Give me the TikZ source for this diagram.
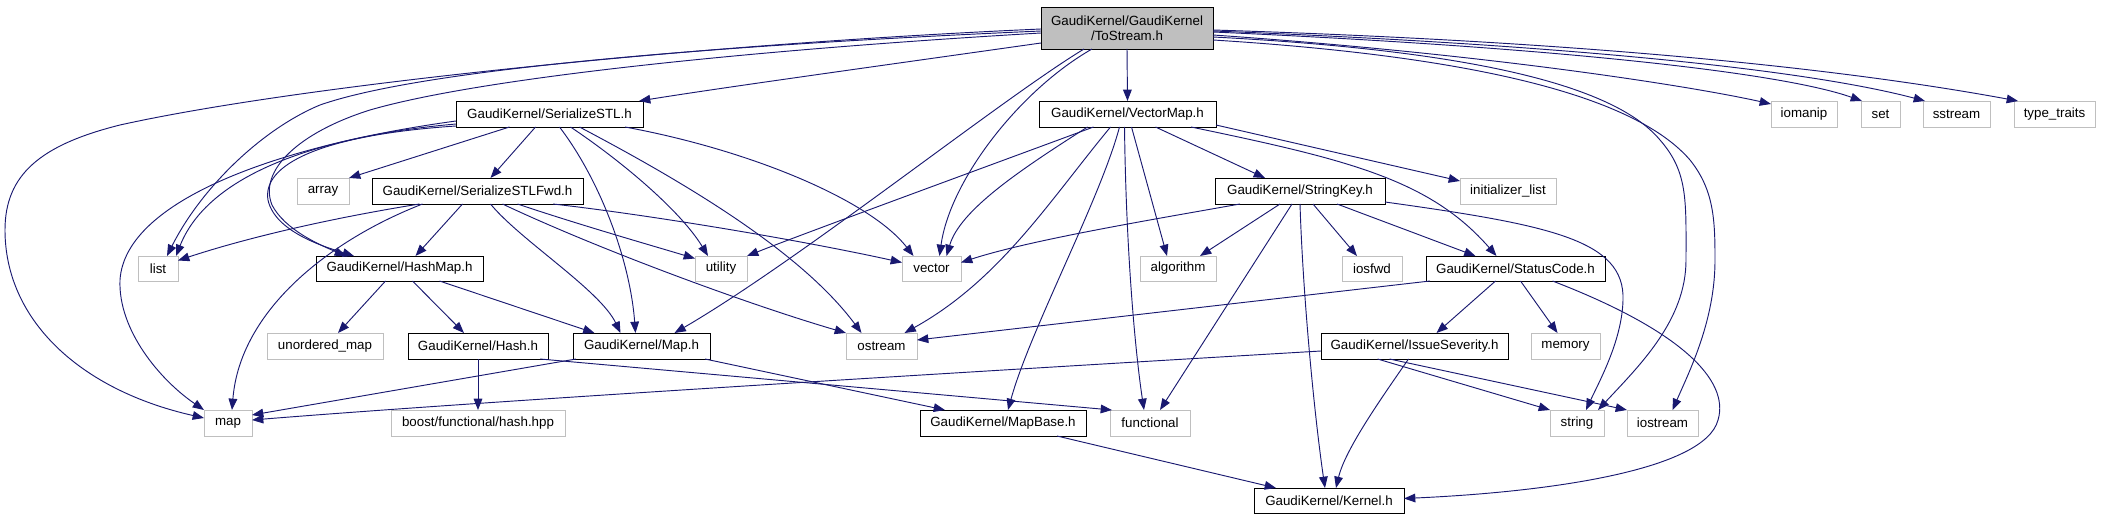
\documentclass[tikz,border=0pt]{standalone}
\usepackage{fontspec}
\setmainfont{Liberation Sans}
\usetikzlibrary{arrows.meta}
\definecolor{edgecol}{HTML}{191970}
\definecolor{extgray}{HTML}{BFBFBF}
\newcommand\gn[6]{\node[#1, minimum width={(#4-#2)*0.75pt}, minimum height={(#5-#3)*0.75pt}] (#6) at ({(#2+#4)/2},{(#3+#5)/2})}
\begin{document}
\begin{tikzpicture}[x=0.75pt,y=-0.75pt,
  base/.style={rectangle, inner sep=0pt, outer sep=0pt, line width=0.65pt, font=\fontsize{10}{11.5}\selectfont, text=black},
  doc/.style={base, draw=black},
  ext/.style={base, draw=extgray},
  root/.style={base, draw=black, fill=extgray, align=center},
  dep/.style={draw=edgecol, line width=0.7pt, -{Triangle[length=8.5pt,width=6.5pt,fill=edgecol]}}]
\useasboundingbox (0,0) rectangle (2123,520);
% row 0
\gn{root}{1041}{7}{1213}{49}{ts} {GaudiKernel/GaudiKernel\\/ToStream.h};
% row 1
\gn{doc}{456}{101}{643}{127}{sstl} {GaudiKernel/SerializeSTL.h};
\gn{doc}{1039}{101}{1216}{127}{vmap} {GaudiKernel/VectorMap.h};
\gn{ext}{1771}{101}{1837}{127}{iomanip} {iomanip};
\gn{ext}{1861}{101}{1900}{127}{set} {set};
\gn{ext}{1923}{101}{1990}{127}{sstream} {sstream};
\gn{ext}{2014}{101}{2095}{127}{ttraits} {type\_traits};
% row 2
\gn{ext}{297}{178}{349}{204}{array} {array};
\gn{doc}{372}{178}{583}{204}{sfwd} {GaudiKernel/SerializeSTLFwd.h};
\gn{doc}{1215}{178}{1385}{204}{skey} {GaudiKernel/StringKey.h};
\gn{ext}{1460}{178}{1556}{204}{ilist} {initializer\_list};
% row 3
\gn{ext}{138}{256}{178}{281}{list} {list};
\gn{doc}{316}{256}{483}{281}{hmap} {GaudiKernel/HashMap.h};
\gn{ext}{695}{256}{747}{281}{utility} {utility};
\gn{ext}{902}{256}{961}{281}{vector} {vector};
\gn{ext}{1140}{256}{1216}{281}{algo} {algorithm};
\gn{ext}{1342}{256}{1402}{281}{iosfwd} {iosfwd};
\gn{doc}{1426}{256}{1605}{281}{scode} {GaudiKernel/StatusCode.h};
% row 4
\gn{ext}{267}{333}{383}{359}{umap} {unordered\_map};
\gn{doc}{408}{333}{548}{359}{hash} {GaudiKernel/Hash.h};
\gn{doc}{573}{333}{710}{359}{maph} {GaudiKernel/Map.h};
\gn{ext}{846}{333}{917}{359}{ostream} {ostream};
\gn{doc}{1321}{333}{1508}{359}{isev} {GaudiKernel/IssueSeverity.h};
\gn{ext}{1531}{333}{1600}{359}{memory} {memory};
% row 5
\gn{ext}{204}{410}{252}{436}{map} {map};
\gn{ext}{391}{410}{565}{436}{boost} {boost/functional/hash.hpp};
\gn{doc}{920}{410}{1086}{436}{mapbase} {GaudiKernel/MapBase.h};
\gn{ext}{1110}{410}{1190}{436}{functional} {functional};
\gn{ext}{1550}{410}{1604}{436}{string} {string};
\gn{ext}{1627}{410}{1698}{436}{iostream} {iostream};
% row 6
\gn{doc}{1254}{488}{1404}{513}{kernel} {GaudiKernel/Kernel.h};

% ---- ToStream
\draw[dep] ([shift={(0,1)}]ts.west) .. controls (700,44) and (300,85) .. (120,125) .. controls (40,145) and (5,175) .. (5,230) .. controls (5,320) and (80,390) .. ([shift={(0,-5)}]map.west);
\draw[dep] ([shift={(0,3)}]ts.west) .. controls (700,46) and (420,70) .. (320,105) .. controls (260,130) and (200,190) .. ([shift={(9,0)}]list.north);
\draw[dep] ([shift={(0,5)}]ts.west) .. controls (750,50) and (480,78) .. (370,110) .. controls (300,132) and (258,170) .. (272,205) .. controls (285,230) and (320,245) .. ([shift={(30,0)}]hmap.north west);
\draw[dep] ([shift={(0,15)}]ts.west) .. controls (850,70) and (720,88) .. ([shift={(-4,0)}]sstl.north east);
\draw[dep] ([shift={(-43,0)}]ts.south) .. controls (1000,100) and (800,260) .. ([shift={(33,0)}]maph.north);
\draw[dep] ([shift={(-35,0)}]ts.south) .. controls (1020,90) and (950,180) .. ([shift={(8,0)}]vector.north);
\draw[dep] (ts.south) -- (vmap.north);
\draw[dep] ([shift={(0,2)}]ts.east) .. controls (1600,42) and (1850,70) .. ([shift={(4,0)}]ttraits.north west);
\draw[dep] ([shift={(0,3)}]ts.east) .. controls (1550,44) and (1800,68) .. ([shift={(2,0)}]sstream.north west);
\draw[dep] ([shift={(0,4)}]ts.east) .. controls (1550,47) and (1780,72) .. ([shift={(1,0)}]set.north west);
\draw[dep] ([shift={(0,7)}]ts.east) .. controls (1500,55) and (1700,88) .. ([shift={(0,-10)}]iomanip.west);
\draw[dep] ([shift={(0,9)}]ts.east) .. controls (1500,52) and (1620,92) .. (1660,140) .. controls (1688,172) and (1686,200) .. (1686,260) .. controls (1686,320) and (1640,365) .. ([shift={(21,0)}]string.north);
\draw[dep] ([shift={(0,12)}]ts.east) .. controls (1500,58) and (1640,102) .. (1690,160) .. controls (1714,190) and (1715,220) .. (1715,260) .. controls (1715,320) and (1690,370) .. ([shift={(10,0)}]iostream.north);

% ---- SerializeSTL
\draw[dep] ([shift={(-40,0)}]sstl.south) -- (array.north east);
\draw[dep] ([shift={(-14,0)}]sstl.south) -- ([shift={(13,0)}]sfwd.north);
\draw[dep] ([shift={(0,7)}]sstl.west) .. controls (280,145) and (125,200) .. (120,280) .. controls (118,330) and (160,380) .. (map.north west);
\draw[dep] ([shift={(0,10)}]sstl.west) .. controls (330,135) and (210,170) .. ([shift={(-2,0)}]list.north east);
\draw[dep] ([shift={(0,12)}]sstl.west) .. controls (320,135) and (262,165) .. (268,200) .. controls (275,232) and (325,247) .. ([shift={(38,0)}]hmap.north west);
\draw[dep] ([shift={(10,0)}]sstl.south) .. controls (600,180) and (630,260) .. ([shift={(-6,0)}]maph.north);
\draw[dep] ([shift={(21,0)}]sstl.south) .. controls (620,160) and (680,210) .. ([shift={(-13,0)}]utility.north);
\draw[dep] ([shift={(30,0)}]sstl.south) .. controls (680,180) and (800,250) .. ([shift={(-20,0)}]ostream.north);
\draw[dep] ([shift={(-18,0)}]sstl.south east) .. controls (750,150) and (870,200) .. ([shift={(-18,0)}]vector.north);

% ---- SerializeSTLFwd
\draw[dep] ([shift={(-58,0)}]sfwd.south) .. controls (320,220) and (240,240) .. ([shift={(0,-8)}]list.east);
\draw[dep] ([shift={(-55,0)}]sfwd.south) .. controls (330,240) and (240,310) .. ([shift={(4,0)}]map.north);
\draw[dep] ([shift={(-15,0)}]sfwd.south) -- ([shift={(16,0)}]hmap.north);
\draw[dep] ([shift={(13,0)}]sfwd.south) .. controls (520,240) and (600,290) .. ([shift={(-21,0)}]maph.north);
\draw[dep] ([shift={(25,0)}]sfwd.south) .. controls (600,250) and (750,305) .. (ostream.north west);
\draw[dep] ([shift={(40,0)}]sfwd.south) .. controls (580,225) and (650,245) .. ([shift={(0,-10)}]utility.west);
\draw[dep] ([shift={(-30,0)}]sfwd.south east) .. controls (650,215) and (800,240) .. ([shift={(0,-6)}]vector.west);

% ---- HashMap, Hash, Map, MapBase
\draw[dep] ([shift={(-14,0)}]hmap.south) -- ([shift={(13,0)}]umap.north);
\draw[dep] ([shift={(13,0)}]hmap.south) -- ([shift={(-14,0)}]hash.north);
\draw[dep] ([shift={(40,0)}]hmap.south) -- ([shift={(-47,0)}]maph.north);
\draw[dep] (hash.south) -- (boost.north);
\draw[dep] ([shift={(-8,0)}]hash.south east) -- ([shift={(2,0)}]functional.north west);
\draw[dep] ([shift={(3,0)}]maph.south west) -- ([shift={(0,-8)}]map.east);
\draw[dep] ([shift={(-5,0)}]maph.south east) -- ([shift={(25,0)}]mapbase.north west);
\draw[dep] ([shift={(54,0)}]mapbase.south) -- ([shift={(22,0)}]kernel.north west);

% ---- VectorMap
\draw[dep] ([shift={(-34,0)}]vmap.south) .. controls (950,180) and (800,235) .. (utility.north east);
\draw[dep] ([shift={(-40,0)}]vmap.south) .. controls (1020,170) and (960,210) .. ([shift={(15,0)}]vector.north);
\draw[dep] ([shift={(-17,0)}]vmap.south) .. controls (1050,200) and (1000,280) .. ([shift={(23,0)}]ostream.north);
\draw[dep] ([shift={(-8,0)}]vmap.south) .. controls (1100,200) and (1030,330) .. ([shift={(5,0)}]mapbase.north);
\draw[dep] ([shift={(-3,0)}]vmap.south) .. controls (1126,250) and (1135,350) .. ([shift={(-6,0)}]functional.north);
\draw[dep] ([shift={(4,0)}]vmap.south) -- ([shift={(-11,0)}]algo.north);
\draw[dep] ([shift={(28,0)}]vmap.south) -- ([shift={(-35,0)}]skey.north);
\draw[dep] ([shift={(0,-2)}]vmap.south east) -- ([shift={(0,-10)}]ilist.west);
\draw[dep] ([shift={(-25,0)}]vmap.south east) .. controls (1350,160) and (1430,180) .. ([shift={(-19,0)}]scode.north);

% ---- StringKey
\draw[dep] ([shift={(-60,0)}]skey.south) .. controls (1150,220) and (1030,240) .. ([shift={(0,-6)}]vector.east);
\draw[dep] ([shift={(-20,0)}]skey.south) -- ([shift={(-16,0)}]algo.north east);
\draw[dep] ([shift={(-8,0)}]skey.south) -- ([shift={(10,0)}]functional.north);
\draw[dep] (skey.south) .. controls (1303,300) and (1315,420) .. ([shift={(-4,0)}]kernel.north);
\draw[dep] ([shift={(13,0)}]skey.south) -- ([shift={(-15,0)}]iosfwd.north);
\draw[dep] ([shift={(37,0)}]skey.south) -- ([shift={(-40,0)}]scode.north);
\draw[dep] ([shift={(0,-2)}]skey.south east) .. controls (1550,225) and (1625,240) .. (1623,300) .. controls (1622,340) and (1600,380) .. ([shift={(9,0)}]string.north);

% ---- StatusCode
\draw[dep] ([shift={(4,0)}]scode.south west) -- ([shift={(0,-6)}]ostream.east);
\draw[dep] ([shift={(-20,0)}]scode.south) -- ([shift={(22,0)}]isev.north);
\draw[dep] ([shift={(5,0)}]scode.south) -- ([shift={(-8,0)}]memory.north);
\draw[dep] ([shift={(37,0)}]scode.south) .. controls (1680,330) and (1730,380) .. (1718,420) .. controls (1705,470) and (1550,492) .. ([shift={(0,-2)}]kernel.east);

% ---- IssueSeverity
\draw[dep] ([shift={(0,5)}]isev.west) .. controls (1000,370) and (500,400) .. ([shift={(0,-3)}]map.east);
\draw[dep] ([shift={(-37,0)}]isev.south) -- (string.north west);
\draw[dep] ([shift={(-25,0)}]isev.south) -- (iostream.north west);
\draw[dep] ([shift={(-6,0)}]isev.south) .. controls (1380,400) and (1345,450) .. ([shift={(7,0)}]kernel.north);
\end{tikzpicture}
\end{document}
